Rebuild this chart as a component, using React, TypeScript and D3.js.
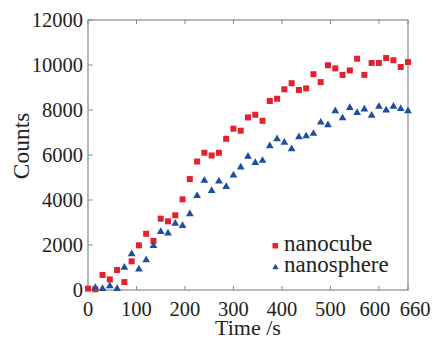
import React from "react";
import * as d3 from "d3";

const timesCube = [0,15,30,45,60,75,90,105,120,135,150,165,180,195,210,225,240,255,270,285,300,315,330,345,360,375,390,405,420,435,450,465,480,495,510,525,540,555,570,585,600,615,630,645,660];
const nanocube = [60,30,670,470,890,350,1275,1985,2500,2180,3170,3050,3320,4030,4930,5710,6100,5980,6100,6720,7170,7080,7670,7790,7520,8400,8500,8920,9190,8890,8960,9590,9240,9990,9850,9560,9760,10280,9560,10090,10090,10310,10210,9910,10130];
const timesSphere = [15,30,45,60,75,90,105,120,135,150,165,180,195,210,225,240,255,270,285,300,315,330,345,360,375,390,405,420,435,450,465,480,495,510,525,540,555,570,585,600,615,630,645,660];
const nanosphere = [100,60,180,60,1000,1600,920,1330,1970,2590,2520,2960,2860,3380,4190,4870,4410,4830,4590,5100,5460,5930,5660,5750,6400,6710,6560,6270,6800,6840,6950,7450,7330,7960,7640,8100,7880,8030,7760,8150,7990,8160,8060,7960];
const xTicks = [0,100,200,300,400,500,600,660];
const yTicks = [0,2000,4000,6000,8000,10000,12000];
const legendLabels = ["nanocube", "nanosphere"];

const RED = "#e3222d";
const BLUE = "#1f4f9f";
const AXIS = "#8a8a8a";
const FONT = '"Liberation Serif"';

function T(props: any) {
  const { children, ...rest } = props;
  return <text {...rest} fill="#222" style={{ fontFamily: FONT }}>{children}</text>;
}

export default function App() {
  const W = 432, H = 339;
  const m = { left: 88, right: 408, top: 20, bottom: 290 };
  const x = d3.scaleLinear().domain([0, 660]).range([m.left, m.right]);
  const y = d3.scaleLinear().domain([0, 12000]).range([m.bottom, m.top]);
  const sq = 6;
  const tri = d3.symbol().type(d3.symbolTriangle).size(26);
  const triSmall = d3.symbol().type(d3.symbolTriangle).size(18);
  const xLabelShift = (t: number) => (t === 600 ? -4 : t === 660 ? 7 : 0);

  return (
    <svg width={W} height={H} style={{ position: "absolute", left: 0, top: 0, background: "#fff" }}>
      <rect x={0} y={0} width={W} height={H} fill="#fff" />
      <rect x={m.left} y={m.top} width={m.right - m.left} height={m.bottom - m.top} fill="none" stroke={AXIS} strokeWidth={1.2} />
      {xTicks.map((t) => (
        <g key={"xt" + t}>
          <line x1={x(t)} x2={x(t)} y1={m.bottom} y2={m.bottom - 4} stroke={AXIS} strokeWidth={1} />
          <line x1={x(t)} x2={x(t)} y1={m.top} y2={m.top + 4} stroke={AXIS} strokeWidth={1} />
          <T x={x(t) + xLabelShift(t)} y={316} textAnchor="middle" fontSize={20.5}>{t}</T>
        </g>
      ))}
      {yTicks.map((v) => (
        <g key={"yt" + v}>
          <line x1={m.left} x2={m.left + 5} y1={y(v)} y2={y(v)} stroke={AXIS} strokeWidth={1} />
          <T x={m.left - 5} y={y(v) + 7} textAnchor="end" fontSize={20.5}>{v}</T>
        </g>
      ))}
      <T x={(m.left + m.right) / 2} y={335} textAnchor="middle" fontSize={22}>Time /s</T>
      <T transform={`translate(29,${146}) rotate(-90)`} textAnchor="middle" fontSize={23.5}>Counts</T>
      {nanocube.map((v, i) => (
        <rect key={"c" + i} x={x(timesCube[i]) - sq / 2} y={y(v) - sq / 2} width={sq} height={sq} fill={RED} />
      ))}
      {nanosphere.map((v, i) => (
        <path key={"s" + i} d={tri() as string} transform={`translate(${x(timesSphere[i])},${y(v)})`} fill={BLUE} />
      ))}
      <rect x={272.5} y={243} width={5.5} height={5.5} fill={RED} />
      <T x={284} y={251} fontSize={23}>{legendLabels[0]}</T>
      <path d={triSmall() as string} transform={`translate(275.5,267.5)`} fill={BLUE} />
      <T x={284} y={272} fontSize={23}>{legendLabels[1]}</T>
    </svg>
  );
}
